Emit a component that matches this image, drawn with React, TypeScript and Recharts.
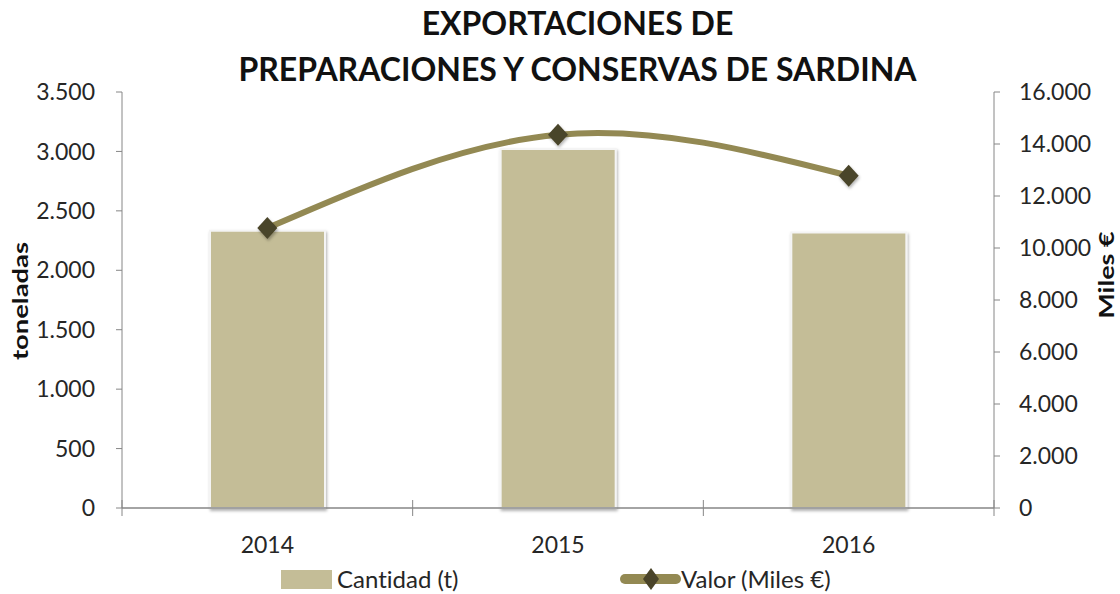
import React from "react";
import { ComposedChart, Bar, Line, XAxis, YAxis } from "recharts";

const years = ["2014", "2015", "2016"];
const cantidad = [2332, 3020, 2318];
const valor = [10765, 14356, 12778];
const leftTicks = [0, 500, 1000, 1500, 2000, 2500, 3000, 3500];
const rightTicks = [0, 2000, 4000, 6000, 8000, 10000, 12000, 14000, 16000];

const data = years.map((y, i) => ({ year: y, cantidad: cantidad[i], valor: valor[i] }));

const FONT = "Lato, 'Open Sans', sans-serif";
const BAR = "#C4BD97";
const LINE = "#938953";
const MARK = "#4A4429";
const AXIS = "#868686";
const TEXT = "#262626";

const fmt = (n: number) => String(n).replace(/\B(?=(\d{3})+(?!\d))/g, ".");

const XTick = (props: any) => {
  const { x, y, payload, index, width } = props;
  const band = (width || 872) / years.length;
  const last = index === years.length - 1;
  return (
    <g>
      <line x1={x - band / 2} x2={x - band / 2} y1={y - 8} y2={y + 8} stroke={AXIS} strokeWidth={1} />
      {last && <line x1={x + band / 2} x2={x + band / 2} y1={y - 8} y2={y + 8} stroke={AXIS} strokeWidth={1} />}
      <text x={x} y={y + 37} dy="0.35em" textAnchor="middle" fill={TEXT} fontSize={23} fontFamily={FONT}>
        {payload.value}
      </text>
    </g>
  );
};

const Diamond = (props: any) => {
  const { cx, cy } = props;
  if (cx == null || cy == null) return null;
  return (
    <path
      d={`M${cx} ${cy - 11} L${cx + 10} ${cy} L${cx} ${cy + 11} L${cx - 10} ${cy} Z`}
      fill={MARK}
      filter="url(#sh)"
    />
  );
};

export default function App() {
  return (
    <div style={{ position: "absolute", left: 0, top: 0, width: 1120, height: 594, background: "#fff", fontFamily: FONT, fontVariantLigatures: "none" }}>
      <div style={{ position: "absolute", left: 0, top: 0, width: 1155, textAlign: "center", fontWeight: 700, fontSize: 32, lineHeight: "46px", color: "#111" }}>
        EXPORTACIONES DE
        <br />
        PREPARACIONES Y CONSERVAS DE SARDINA
      </div>
      <ComposedChart
        width={1120}
        height={594}
        data={data}
        margin={{ top: 92, right: 36, bottom: 36, left: 42 }}
      >
        <defs>
          <filter id="sh" x="-30%" y="-30%" width="160%" height="160%">
            <feDropShadow dx="1" dy="2" stdDeviation="1.5" floodColor="#000" floodOpacity="0.3" />
          </filter>
        </defs>
        <XAxis
          dataKey="year"
          height={50}
          axisLine={{ stroke: AXIS, strokeWidth: 1.5 }}
          tickLine={false}
          tickSize={0}
          tickMargin={0}
          tick={<XTick />}
          interval={0}
        />
        <YAxis
          yAxisId="left"
          width={80}
          domain={[0, 3500]}
          ticks={leftTicks}
          tickFormatter={fmt}
          axisLine={{ stroke: AXIS }}
          tickLine={{ stroke: AXIS }}
          tickSize={6}
          tickMargin={21}
          tick={{ fill: TEXT, fontSize: 23, fontFamily: FONT }}
        />
        <YAxis
          yAxisId="right"
          orientation="right"
          width={90}
          domain={[0, 16000]}
          ticks={rightTicks}
          tickFormatter={fmt}
          axisLine={{ stroke: AXIS }}
          tickLine={{ stroke: AXIS }}
          tickSize={6}
          tickMargin={19}
          tick={{ fill: TEXT, fontSize: 23, fontFamily: FONT, textAnchor: "start" }}
        />
        <Bar
          yAxisId="left"
          dataKey="cantidad"
          fill={BAR}
          stroke="#f4f4f4"
          strokeWidth={2}
          barSize={115}
          filter="url(#sh)"
          isAnimationActive={false}
        />
        <Line
          yAxisId="right"
          dataKey="valor"
          type="natural"
          stroke={LINE}
          strokeWidth={6}
          dot={<Diamond />}
          activeDot={false}
          isAnimationActive={false}
        />
      </ComposedChart>
      <div style={{ position: "absolute", left: 20, top: 301, transform: "translate(-50%, -50%) rotate(-90deg) scaleX(1.37)", fontWeight: 700, fontSize: 20, color: "#111", whiteSpace: "nowrap" }}>
        toneladas
      </div>
      <div style={{ position: "absolute", left: 1106, top: 275, transform: "translate(-50%, -50%) rotate(-90deg) scaleX(1.35)", fontWeight: 700, fontSize: 20, color: "#111", whiteSpace: "nowrap" }}>
        Miles €
      </div>
      <div style={{ position: "absolute", left: 281, top: 567, display: "flex", alignItems: "center", fontSize: 24, color: TEXT }}>
        <div style={{ width: 51, height: 19, background: BAR, marginRight: 5 }} />
        <span style={{ lineHeight: "24px" }}>Cantidad (t)</span>
      </div>
      <div style={{ position: "absolute", left: 620, top: 567, display: "flex", alignItems: "center", fontSize: 24, color: TEXT }}>
        <svg width={61} height={22} style={{ display: "block" }}>
          <line x1={5} x2={56} y1={11} y2={11} stroke={LINE} strokeWidth={10} strokeLinecap="round" />
          <path d="M31 0 L39 11 L31 22 L23 11 Z" fill={MARK} />
        </svg>
        <span style={{ lineHeight: "24px" }}>Valor (Miles €)</span>
      </div>
    </div>
  );
}
